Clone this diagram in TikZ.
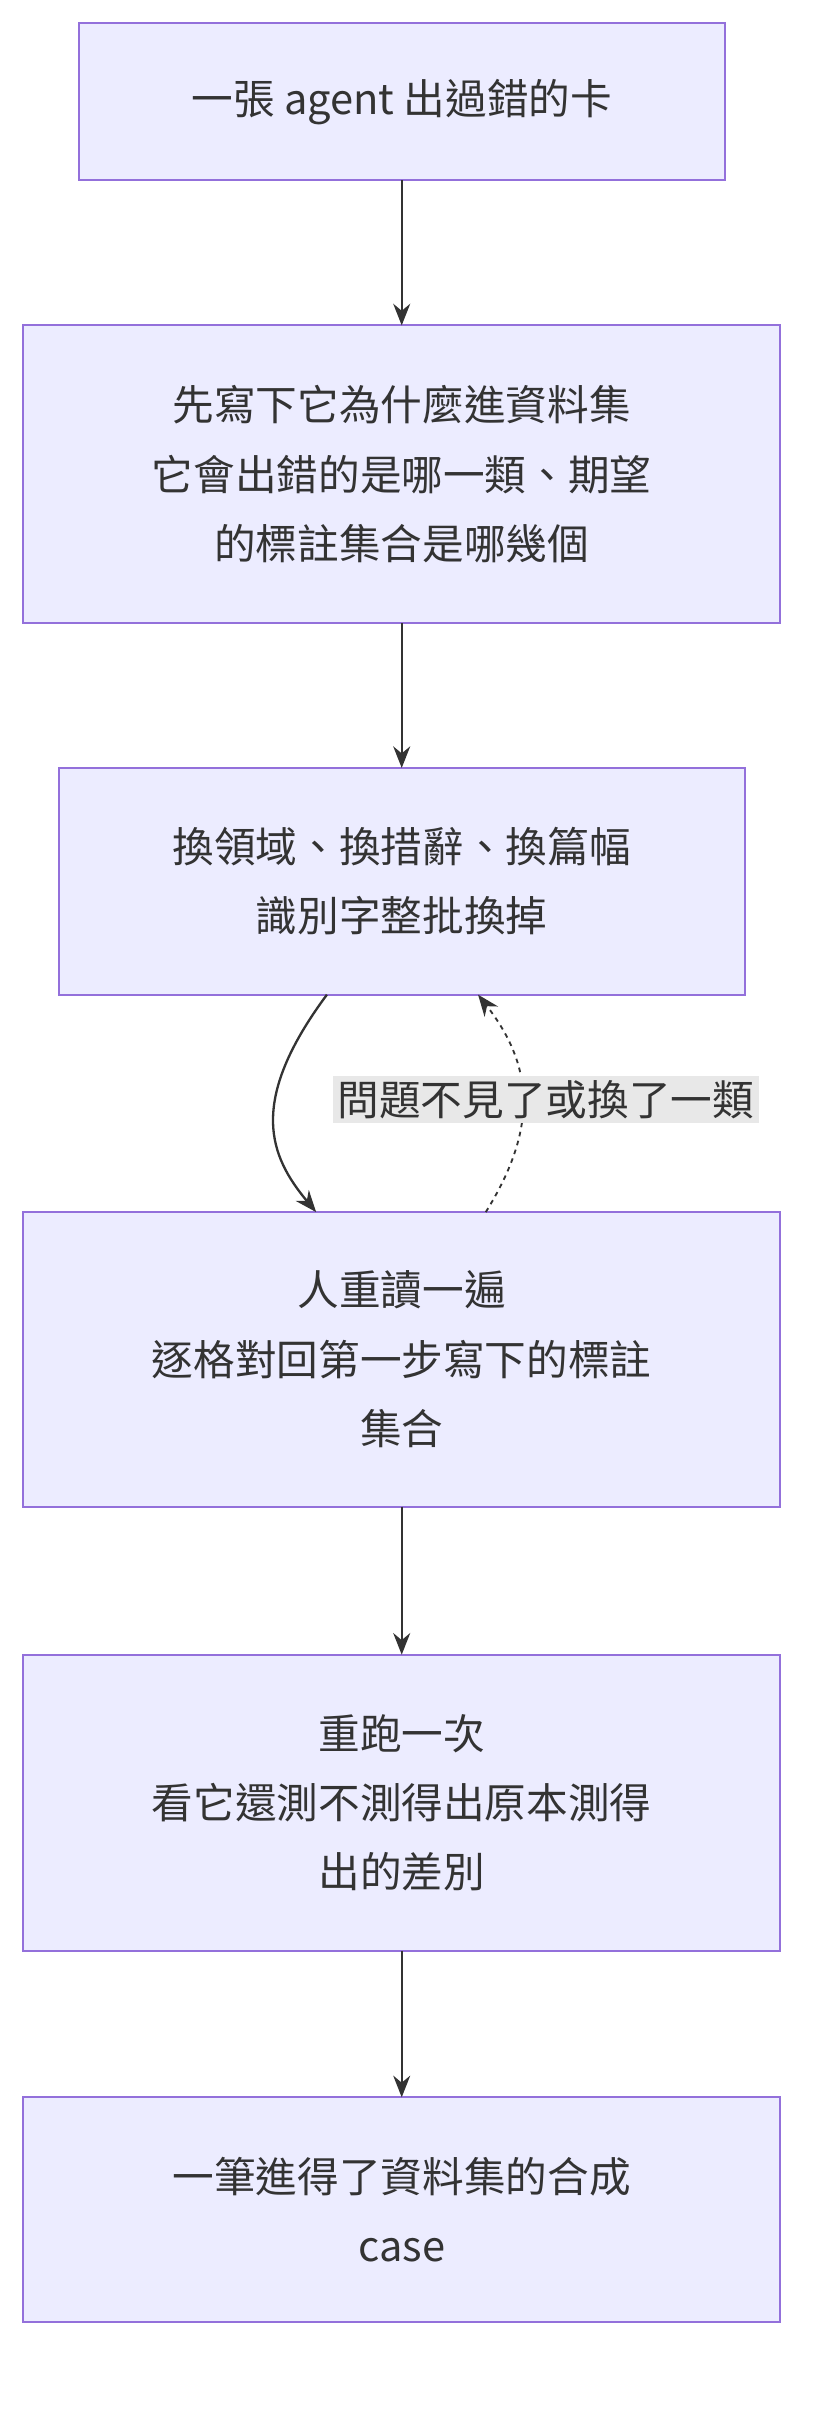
\documentclass[tikz,border=0pt]{standalone}
\usepackage{fontspec}
\setmainfont{Noto Sans CJK TC}
\usetikzlibrary{arrows.meta}
\definecolor{bfill}{HTML}{ECECFF}
\definecolor{bdraw}{HTML}{9370DB}
\definecolor{ln}{HTML}{333333}
\definecolor{lbg}{HTML}{E8E8E8}
\begin{document}
\begin{tikzpicture}[x=1pt,y=-1pt,
 box/.style={draw=bdraw,fill=bfill,line width=1.3pt},
 txt/.style={align=center,font=\fontsize{27}{45}\selectfont,text=ln},
 arr/.style={draw=ln,line width=1.5pt,-{Stealth[length=14pt,width=11pt]}}]
\useasboundingbox (0,0) rectangle (540,1568);
\draw[box] (51,15) rectangle (470,117) node[txt,midway] (t1) {一張 agent 出過錯的卡};
\coordinate (a1) at (260.5,117);
\draw[box] (15,211) rectangle (506,404) node[txt,midway] (t2) {先寫下它為什麼進資料集\\它會出錯的是哪一類、期望\\的標註集合是哪幾個};
\coordinate (b2) at (260.5,211); \coordinate (a2) at (260.5,404);
\draw[box] (38,498) rectangle (483,645) node[txt,midway] (t3) {換領域、換措辭、換篇幅\\識別字整批換掉};
\coordinate (b3) at (260.5,498);
\draw[box] (15,786) rectangle (506,977) node[txt,midway] (t4) {人重讀一遍\\逐格對回第一步寫下的標註\\集合};
\coordinate (a4) at (260.5,977);
\draw[box] (15,1073) rectangle (506,1265) node[txt,midway] (t5) {重跑一次\\看它還測不測得出原本測得\\出的差別};
\coordinate (b5) at (260.5,1073); \coordinate (a5) at (260.5,1265);
\draw[box] (15,1360) rectangle (506,1506) node[txt,midway] (t6) {一筆進得了資料集的合成\\case};
\coordinate (b6) at (260.5,1360);
\coordinate (b4) at (260.5,786);
\draw[arr] (a1) -- (b2);
\draw[arr] (a2) -- (b3);
\coordinate (s1) at (212,645); \coordinate (e1) at (205,786);
\draw[arr] (s1) .. controls (160,715) and (175,750) .. (e1);
\coordinate (s2) at (315,786); \coordinate (e2) at (310,645);
\draw[arr,dashed,dash pattern=on 3pt off 3pt,line width=1.2pt] (s2) .. controls (350,730) and (345,690) .. (e2);
\node[fill=lbg,inner sep=3pt,txt] (lab) at (354,713) {問題不見了或換了一類};
\draw[arr] (a4) -- (b5);
\draw[arr] (a5) -- (b6);
\end{tikzpicture}
\end{document}
